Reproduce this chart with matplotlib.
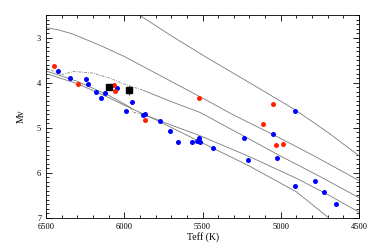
import matplotlib
matplotlib.use('Agg')
import matplotlib.pyplot as plt
from matplotlib.ticker import MultipleLocator

plt.rcParams['font.family'] = ['Liberation Serif', 'DejaVu Serif']

# stars
blue_teff = [6425, 6347, 6247, 6230, 6181, 6151, 6123, 6048, 5950, 5989, 5878, 5870,
             5772, 5706, 5659, 5569, 5537, 5522, 5516, 5431, 5233, 5211, 5052, 5022,
             4909, 4907, 4779, 4724, 4649]
blue_mv = [3.74, 3.90, 3.91, 4.04, 4.20, 4.33, 4.23, 4.11, 4.43, 4.63, 4.71, 4.70,
           4.84, 5.07, 5.32, 5.31, 5.30, 5.22, 5.31, 5.45, 5.23, 5.72, 5.13, 5.68,
           4.62, 6.30, 6.17, 6.43, 6.69]
red_teff = [6447, 6298, 6063, 6059, 5865, 5522, 5113, 5050, 5030, 4983]
red_mv = [3.62, 4.03, 4.06, 4.19, 4.82, 4.34, 4.92, 4.48, 5.39, 5.37]
sq_teff = [6100, 5968]
sq_mv = [4.09, 4.17]
sq_err = [0.03, 0.10]

# isochrones (solid parts)
iso_a_t = [5904, 5700, 5470, 5200, 4909, 4700, 4500]
iso_a_m = [2.50, 2.96, 3.45, 4.00, 4.60, 5.10, 5.62]
iso_b_t = [6500, 6420, 6330, 6150, 6000, 5750, 5522, 5300, 5050, 4800, 4500]
iso_b_m = [2.78, 2.83, 2.92, 3.18, 3.42, 3.88, 4.30, 4.72, 5.15, 5.60, 6.17]
iso_c_t = [5878, 5700, 5516, 5233, 5000, 4750, 4500]
iso_c_m = [4.17, 4.42, 4.66, 5.19, 5.63, 6.08, 6.55]
iso_d_t = [5880, 5700, 5520, 5200, 4900, 4700, 4500]
iso_d_m = [4.70, 4.94, 5.17, 5.64, 6.12, 6.48, 6.87]
iso_e_t = [6500, 6300, 6100, 6000, 5800, 5580, 5200, 4900, 4696]
iso_e_m = [3.80, 4.02, 4.33, 4.50, 4.82, 5.20, 5.85, 6.42, 6.99]
iso_f_t = [6500, 6300, 6100, 5960]
iso_f_m = [3.74, 3.97, 4.28, 4.55]
# hooks (dash-dot parts)
hook_c_t = [6500, 6406, 6321, 6200, 6100, 6002, 5878]
hook_c_m = [3.66, 3.83, 3.75, 3.79, 3.89, 4.03, 4.17]
hook_d_t = [5960, 5940, 5880]
hook_d_m = [4.55, 4.66, 4.70]

fig = plt.figure(figsize=(3.74, 2.5), dpi=100)
ax = fig.add_axes([0.123, 0.128, 0.837, 0.812])

lc = '#7a7a7a'
for t, m in [(iso_a_t, iso_a_m), (iso_b_t, iso_b_m), (iso_c_t, iso_c_m),
             (iso_d_t, iso_d_m), (iso_e_t, iso_e_m), (iso_f_t, iso_f_m)]:
    ax.plot(t, m, color=lc, lw=0.6)
for t, m in [(hook_c_t, hook_c_m), (hook_d_t, hook_d_m)]:
    ax.plot(t, m, color=lc, lw=0.6, ls=(0, (3, 1.5, 1, 1.5)))

ax.plot(blue_teff, blue_mv, 'o', color='#0000ff', ms=3.6, mec='none')
ax.plot(red_teff, red_mv, 'o', color='#ff2200', ms=3.6, mec='none')
ax.errorbar(sq_teff, sq_mv, yerr=sq_err, fmt='s', color='black', ms=4.5,
            elinewidth=0.6, capsize=0)

ax.set_xlim(6500, 4500)
ax.set_ylim(7, 2.5)
ax.xaxis.set_major_locator(MultipleLocator(500))
ax.xaxis.set_minor_locator(MultipleLocator(100))
ax.yaxis.set_major_locator(MultipleLocator(1))
ax.yaxis.set_minor_locator(MultipleLocator(0.1))
ax.tick_params(which='both', direction='in', top=True, right=True, labelsize=6, width=0.6)
ax.tick_params(which='major', length=4)
ax.tick_params(which='minor', length=2)
for s in ax.spines.values():
    s.set_linewidth(0.6)
ax.set_xlabel('Teff (K)', fontsize=7, labelpad=1)
ax.set_ylabel('Mv', fontsize=7, labelpad=8)

fig.savefig('out.png', dpi=100)
